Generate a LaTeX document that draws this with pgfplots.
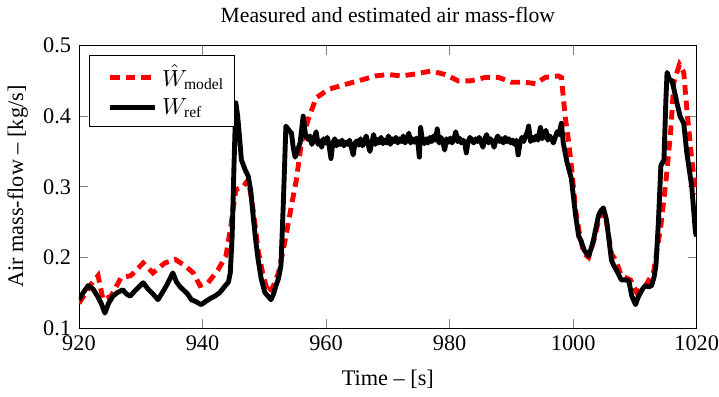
\documentclass[border=0pt]{standalone}
\usepackage{pgfplots}
\usepackage{fontspec}
\setmainfont{Liberation Serif}
\pgfplotsset{compat=1.18}
\begin{document}%
\fontsize{10.5}{12.5}\selectfont%
\begin{tikzpicture}
\begin{axis}[
  scale only axis,
  width=291pt, height=133pt,
  xmin=920, xmax=1020, ymin=0.1, ymax=0.5,
  xtick={920,940,960,980,1000,1020},
  ytick={0.1,0.2,0.3,0.4,0.5},
  /pgf/number format/assume math mode=true,
  yticklabel style={/pgf/number format/fixed,/pgf/number format/precision=1,/pgf/number format/fixed zerofill},
  xticklabel style={/pgf/number format/1000 sep={}, inner xsep=0pt},
  tick label style={font=\fontsize{10.5}{12.5}\selectfont},
  label style={font=\fontsize{10.5}{12.5}\selectfont},
  title style={font=\fontsize{10.2}{12.5}\selectfont, yshift=1pt},
  xlabel style={yshift=-2pt},
  major tick style={gray,thin},
  tick align=inside,
  title={Measured and estimated air mass-flow},
  xlabel={Time -- [s]},
  ylabel={Air mass-flow -- [kg/s]},
  legend style={at={(0.016,0.965)},anchor=north west,draw=black,font=\fontsize{10.5}{12.5}\selectfont},
  legend cell align=left,
  legend image code/.code={\path (-0.2cm,0cm); \draw[#1] (0cm,0cm) -- (0.75cm,0cm);},
]
\addplot[red, line width=2.3pt, dash pattern=on 4.5pt off 2.8pt] coordinates {
(920,0.135) (921,0.148) (921.8,0.160) (923.1,0.174) (923.9,0.140) (925.2,0.145) (926,0.158) (926.8,0.171) (928.4,0.174) (930.4,0.192) (932,0.178) (933.9,0.192) (935.6,0.197) (937.2,0.188) (938.5,0.178) (939.6,0.160) (940.9,0.164) (942.5,0.182) (943.8,0.202) (944.6,0.245) (945.4,0.296) (946.6,0.300) (947.4,0.310) (948,0.280) (948.6,0.240) (949,0.210) (949.8,0.175) (950.6,0.150) (951.4,0.158) (952.3,0.178) (953.4,0.225) (954.4,0.273) (955.2,0.310) (956,0.362) (957.1,0.395) (958.4,0.426) (960.4,0.438) (963.1,0.445) (965.2,0.450) (968,0.457) (970.1,0.459) (972.2,0.457) (974.6,0.460) (977,0.464) (979.3,0.459) (981.4,0.450) (983.4,0.450) (985.8,0.455) (987.9,0.455) (990,0.448) (992.3,0.448) (993.9,0.446) (995.5,0.455) (997.6,0.457) (998.1,0.455) (998.7,0.400) (999.3,0.362) (999.7,0.330) (1000.4,0.267) (1001,0.235) (1001.7,0.206) (1002.5,0.200) (1003.3,0.222) (1004.1,0.252) (1004.9,0.265) (1005.4,0.250) (1006.2,0.205) (1006.9,0.196) (1007.8,0.174) (1009.3,0.168) (1010.3,0.150) (1011.7,0.160) (1013,0.178) (1014.2,0.245) (1015,0.306) (1015.8,0.380) (1016.3,0.448) (1017.2,0.473) (1017.9,0.462) (1018.4,0.410) (1019.2,0.338) (1019.8,0.296) (1020,0.290)
};
\addlegendentry{$\hat{W}_{\mathrm{model}}$}
\addplot[black, line width=2.3pt, line join=round] coordinates {
(920,0.140) (920.7,0.150) (921.5,0.160) (922.3,0.155) (923,0.145) (923.6,0.135) (924.2,0.121) (924.8,0.135) (925.5,0.145) (926.2,0.150) (927.1,0.154) (927.7,0.148) (928.3,0.145) (929,0.152) (929.7,0.158) (930.4,0.164) (931.2,0.155) (932,0.148) (932.8,0.140) (933.5,0.150) (934.3,0.162) (935.2,0.178) (935.8,0.165) (936.4,0.158) (936.9,0.154) (937.6,0.148) (938.2,0.140) (939,0.137) (939.8,0.133) (940.6,0.138) (941.3,0.142) (942,0.145) (942.8,0.150) (943.7,0.160) (944.2,0.165) (944.5,0.178) (944.8,0.230) (945.1,0.330) (945.4,0.419) (945.7,0.400) (946,0.370) (946.3,0.338) (946.9,0.324) (947.4,0.315) (947.8,0.295) (948.2,0.259) (948.6,0.225) (949,0.197) (949.5,0.170) (950.1,0.150) (950.6,0.145) (951.1,0.140) (951.5,0.148) (951.9,0.160) (952.3,0.170) (952.7,0.188) (953.1,0.280) (953.5,0.386) (954,0.380) (954.4,0.376) (954.7,0.355) (955,0.342) (955.4,0.352) (955.8,0.362) (956.3,0.400) (956.7,0.372)
(957.1,0.367) (957.4,0.372) (957.7,0.360) (958.0,0.366) (958.4,0.378) (958.7,0.360) (959.0,0.365) (959.3,0.356) (959.6,0.368) (959.9,0.362) (960.2,0.370) (960.5,0.358) (960.8,0.340) (961.1,0.362) (961.4,0.368) (961.7,0.358) (962.0,0.364) (962.3,0.360) (962.6,0.366) (962.9,0.358) (963.2,0.363) (963.5,0.360) (963.8,0.366) (964.1,0.356) (964.4,0.345) (964.7,0.362) (965.0,0.365) (965.3,0.359) (965.6,0.368) (965.9,0.358) (966.2,0.364) (966.5,0.372) (966.8,0.360) (967.1,0.350) (967.4,0.362) (967.7,0.374) (968.0,0.360) (968.3,0.367) (968.6,0.362) (968.9,0.370) (969.2,0.361) (969.5,0.366) (969.8,0.362) (970.1,0.372) (970.4,0.360) (970.7,0.368) (971.0,0.364) (971.3,0.370) (971.6,0.362) (971.9,0.368) (972.2,0.364) (972.5,0.372) (972.8,0.362) (973.1,0.368) (973.4,0.376) (973.7,0.362) (974.0,0.368) (974.3,0.363) (974.6,0.369) (974.9,0.360) (975.1,0.342) (975.3,0.384) (975.6,0.366) (975.9,0.361) (976.2,0.368) (976.5,0.362) (976.8,0.370) (977.1,0.364) (977.4,0.372) (977.7,0.366) (978.0,0.382) (978.3,0.362) (978.6,0.370) (978.9,0.364) (979.2,0.352) (979.5,0.368) (979.8,0.363) (980.1,0.369) (980.4,0.362) (980.7,0.368) (981.0,0.378) (981.3,0.364) (981.6,0.369) (981.9,0.362) (982.2,0.366) (982.5,0.360) (982.7,0.348) (983.0,0.364) (983.3,0.370) (983.6,0.366) (983.9,0.362) (984.2,0.368) (984.5,0.364) (984.8,0.370) (985.1,0.363) (985.4,0.356) (985.7,0.368) (986.0,0.374) (986.3,0.362) (986.6,0.368) (986.9,0.364) (987.2,0.356) (987.5,0.366) (987.8,0.372) (988.1,0.364) (988.4,0.368) (988.7,0.362) (989.0,0.370) (989.3,0.364) (989.6,0.368) (989.9,0.362) (990.2,0.366) (990.5,0.360) (990.8,0.366) (991.1,0.345) (991.4,0.362) (991.7,0.370) (992.0,0.364) (992.3,0.372) (992.6,0.378) (992.8,0.386) (993.1,0.364) (993.4,0.370) (993.7,0.366) (994.0,0.372) (994.3,0.366) (994.7,0.384) (995.0,0.368) (995.3,0.374) (995.6,0.380) (995.9,0.366) (996.2,0.372) (996.5,0.368) (996.8,0.362) (997.1,0.370) (997.4,0.378) (997.7,0.374) (998.1,0.390)
(998.4,0.362) (999,0.335) (999.7,0.312) (1000.4,0.259) (1000.9,0.230) (1001.2,0.225) (1001.8,0.210) (1002.5,0.202) (1003,0.215) (1003.3,0.225) (1003.7,0.242) (1004.1,0.259) (1004.5,0.266) (1004.9,0.270) (1005.4,0.253) (1005.8,0.225) (1006.2,0.196) (1006.6,0.188) (1007,0.182) (1007.4,0.175) (1007.8,0.168) (1008.4,0.168) (1009,0.167) (1009.5,0.145) (1010.1,0.133) (1010.5,0.143) (1010.9,0.150) (1011.3,0.156) (1011.7,0.160) (1012.2,0.158) (1012.7,0.160) (1013.1,0.172) (1013.4,0.188) (1013.8,0.250) (1014.2,0.330) (1014.7,0.338) (1015,0.420) (1015.2,0.462) (1015.6,0.452) (1016,0.450) (1016.4,0.435) (1016.8,0.419) (1017.3,0.400) (1017.9,0.390) (1018.4,0.348) (1019.2,0.300) (1019.8,0.235) (1020,0.230)
};
\addlegendentry{$W_{\mathrm{ref}}$}
\end{axis}
\end{tikzpicture}%
\end{document}
